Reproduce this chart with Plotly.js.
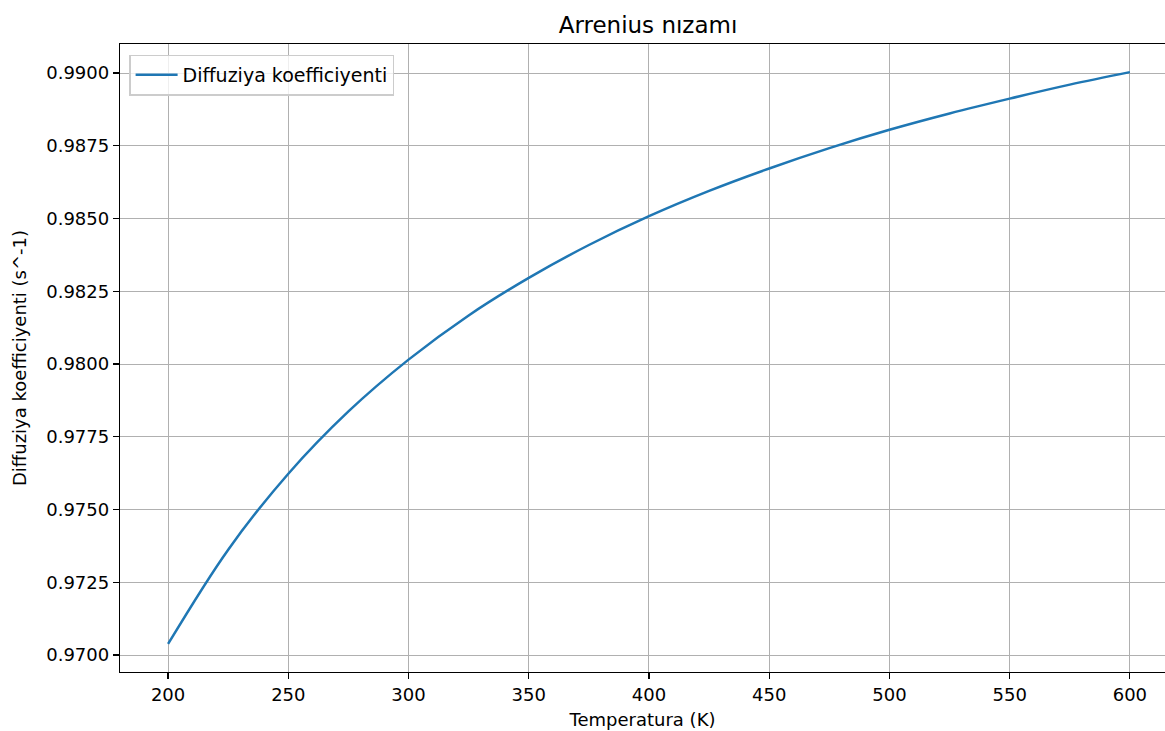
<!DOCTYPE html>
<html>
<head>
<meta charset="utf-8">
<script src="https://cdn.plot.ly/plotly-3.0.1.min.js"></script>
<style>html,body{margin:0;padding:0;background:#fff;}#chart{width:1165px;height:731px;}</style>
</head>
<body>
<div id="chart"></div>
<script>
// Values
const temperature = [200, 225, 250, 275, 300, 325, 350, 375, 400, 425, 450, 475, 500, 525, 550, 575, 600];
const diffusion = [0.97038, 0.97362, 0.97623, 0.97837, 0.98015, 0.98167, 0.98296, 0.98409, 0.98508,
                   0.98595, 0.98672, 0.98742, 0.98805, 0.98861, 0.98912, 0.98960, 0.99003];
const xTicks = [200, 250, 300, 350, 400, 450, 500, 550, 600];
const yTicks = [0.9700, 0.9725, 0.9750, 0.9775, 0.9800, 0.9825, 0.9850, 0.9875, 0.9900];

const font = "DejaVu Sans, sans-serif";
const trace = {
  x: temperature, y: diffusion, type: 'scatter', mode: 'lines',
  name: 'Diffuziya koefficiyenti',
  line: {color: '#1f77b4', width: 2.5, shape: 'spline'}
};
const layout = {
  width: 1165, height: 731,
  margin: {l: 120, r: 0, t: 44, b: 59},
  paper_bgcolor: '#fff', plot_bgcolor: '#fff',
  font: {family: font, size: 18, color: '#000'},
  title: {text: 'Arrenius nızamı', font: {family: font, size: 23, color: '#000'},
          xref: 'container', x: 648/1165, xanchor: 'center', y: 1 - 25/731, yanchor: 'middle'},
  xaxis: {
    range: [180, 614.6], tickvals: xTicks, ticktext: xTicks.map(String),
    showgrid: true, gridcolor: '#b0b0b0', gridwidth: 1, zeroline: false,
    showline: true, linecolor: '#000', linewidth: 1.2, mirror: true,
    ticks: 'outside', ticklen: 6, tickwidth: 1.2, tickcolor: '#000',
    tickfont: {family: font, size: 18, color: '#000'},
    title: {text: 'Temperatura (K)', font: {family: font, size: 18, color: '#000'}, standoff: 9}
  },
  yaxis: {
    range: [0.969416, 0.990997], tickvals: yTicks, ticktext: yTicks.map(v => v.toFixed(4)),
    showgrid: true, gridcolor: '#b0b0b0', gridwidth: 1, zeroline: false,
    showline: true, linecolor: '#000', linewidth: 1.2, mirror: false,
    ticks: 'outside', ticklen: 6, tickwidth: 1.2, tickcolor: '#000',
    tickfont: {family: font, size: 18, color: '#000'},
    title: {text: 'Diffuziya koefficiyenti (s^-1)', font: {family: font, size: 18, color: '#000'}, standoff: 15}
  },
  showlegend: true,
  legend: {x: 0.009, y: 0.983, xanchor: 'left', yanchor: 'top', bgcolor: 'rgba(255,255,255,0.8)',
           bordercolor: '#cccccc', borderwidth: 1.2, itemwidth: 42,
           font: {family: font, size: 19, color: '#000'}}
};
Plotly.newPlot('chart', [trace], layout, {displayModeBar: false, staticPlot: true});
</script>
</body>
</html>
